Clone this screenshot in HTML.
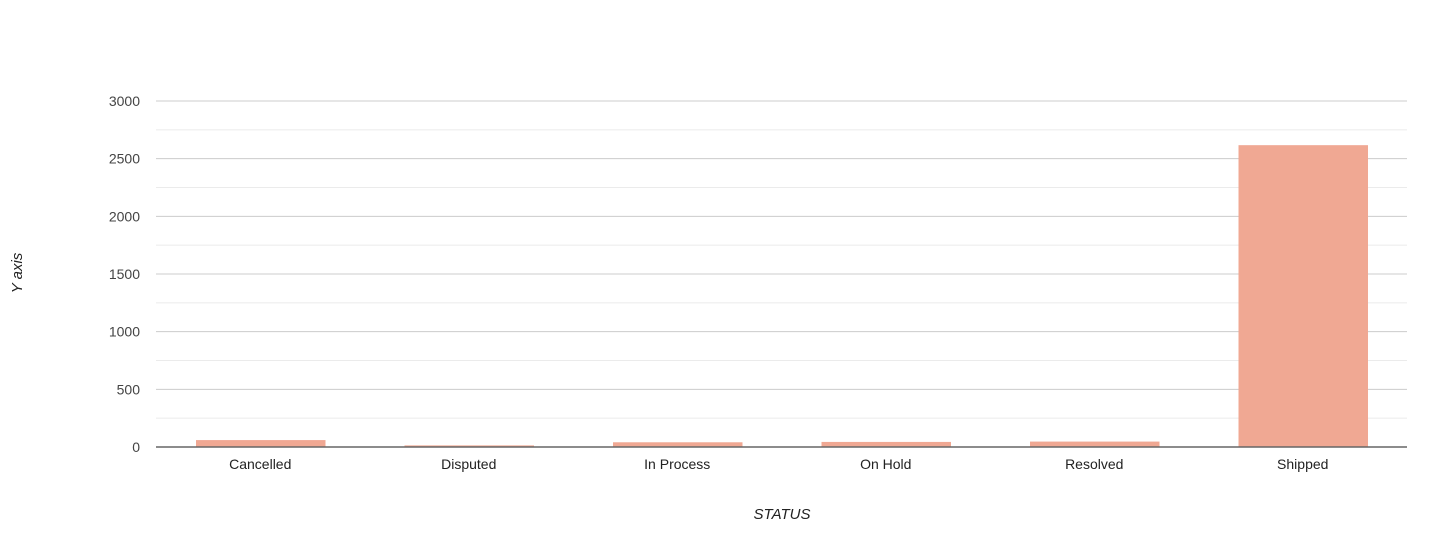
<!DOCTYPE html>
<html><head><meta charset="utf-8"><style>
body{margin:0;background:#fff;font-family:"Liberation Sans",sans-serif}
</style></head><body>
<svg id="chart" width="1444" height="539" xmlns="http://www.w3.org/2000/svg"></svg>
<script>
const categories=["Cancelled","Disputed","In Process","On Hold","Resolved","Shipped"];
const values=[60,14,41,44,47,2617];
const yTicks=[0,500,1000,1500,2000,2500,3000];
const svg=document.getElementById('chart');
const NS='http://www.w3.org/2000/svg';
const x0=156,x1=1407,y0=447,y1=101,yMax=3000;
const y=v=>y0-(v/yMax)*(y0-y1);
const band=(x1-x0)/categories.length;
function mk(t,a,txt){const e=document.createElementNS(NS,t);for(const k in a)e.setAttribute(k,a[k]);if(txt!==undefined)e.textContent=txt;svg.appendChild(e);return e;}
for(let i=0;i<yTicks.length-1;i++){
 const m=(yTicks[i]+yTicks[i+1])/2;
 const g=mk('line',{x1:x0,x2:x1,y1:y(m),y2:y(m),stroke:'#ebebeb','stroke-width':1});
 
 
}
yTicks.forEach(t=>{
 if(t>0){const g=mk('line',{x1:x0,x2:x1,y1:y(t),y2:y(t),stroke:'#cccccc','stroke-width':1});
 
 }
 const l=mk('text',{x:140,y:y(t)+5,'text-anchor':'end','font-size':14,fill:'#444'},t);
 
 
});
categories.forEach((c,i)=>{
 const bx=x0+band*i+40, bw=band-79;
 const r=mk('rect',{x:bx,y:y(values[i]),width:bw,height:y0-y(values[i]),fill:'#f0a893'});
 
 
 const l=mk('text',{x:x0+band*(i+0.5),y:469,'text-anchor':'middle','font-size':14,fill:'#222'},c);
 
 
});
const ax=mk('line',{x1:x0,x2:x1,y1:y0,y2:y0,stroke:'#666','stroke-width':1.5});


const xt=mk('text',{x:782,y:519,'text-anchor':'middle','font-size':15,'font-style':'italic',fill:'#222'},'STATUS');


const yt=mk('text',{x:0,y:0,'text-anchor':'middle','font-size':15,'font-style':'italic',fill:'#222',transform:'translate(22,273) rotate(-90)'},'Y axis');


</script>
</body></html>
